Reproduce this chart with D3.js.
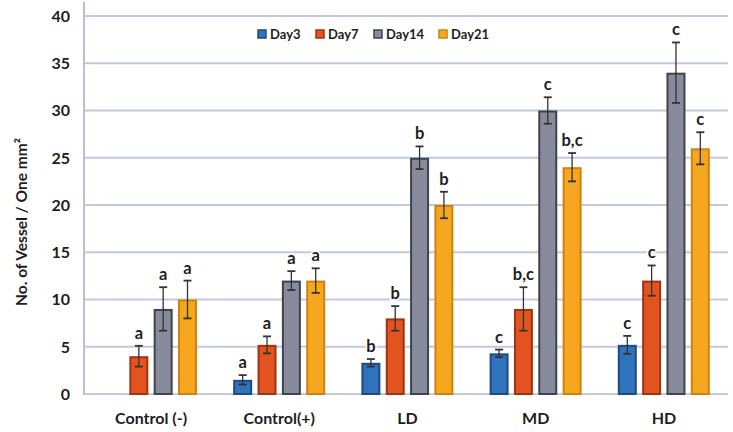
<!DOCTYPE html>
<html><head><meta charset="utf-8">
<script src="https://cdn.jsdelivr.net/npm/d3@7"></script>
<style>body{margin:0;background:#fff;} svg{display:block;} text{font-family:Lato,"Open Sans",sans-serif;font-weight:bold;}</style>
</head><body><svg id="c" width="733" height="432"></svg>
<script>
const categories = ["Control (-)", "Control(+)", "LD", "MD", "HD"];
const seriesNames = ["Day3", "Day7", "Day14", "Day21"];
const day3  = [null, 1.5, 3.3, 4.3, 5.2];
const day7  = [4, 5.2, 8, 9, 12];
const day14 = [9, 12, 25, 30, 34];
const day21 = [10, 12, 20, 24, 26];
const err3  = [null, 0.5, 0.4, 0.4, 0.95];
const err7  = [1.1, 0.9, 1.3, 2.3, 1.6];
const err14 = [2.3, 1.0, 1.2, 1.4, 3.2];
const err21 = [2.0, 1.3, 1.4, 1.5, 1.7];
const lab3  = ["", "a", "b", "c", "c"];
const lab7  = ["a", "a", "b", "b,c", "c"];
const lab14 = ["a", "a", "b", "c", "c"];
const lab21 = ["a", "a", "b", "b,c", "c"];
const yTicks = [0, 5, 10, 15, 20, 25, 30, 35, 40];
const fills = ["#2f73bd", "#e2531f", "#878b9c", "#f5a81f"];
const edges = ["#1d4a80", "#9e3512", "#3f4250", "#d0820c"];

const values = [day3, day7, day14, day21];
const errs = [err3, err7, err14, err21];
const labs = [lab3, lab7, lab14, lab21];

const svg = d3.select("#c");
const y = d3.scaleLinear().domain([0, 40]).range([394, 16]);
const x0 = d3.scaleBand().domain(categories).range([87, 728]).paddingInner(0).paddingOuter(0);
const x1 = d3.scaleBand().domain(seriesNames).range([18, 110]).paddingInner(0.22).paddingOuter(0);

svg.append("g").selectAll("line").data(yTicks).join("line")
  .attr("x1", 84).attr("x2", 728)
  .attr("y1", d => y(d)).attr("y2", d => y(d))
  .attr("stroke", "#c3c8e2").attr("stroke-width", 2);
svg.append("line").attr("x1", 84).attr("x2", 84).attr("y1", 2).attr("y2", 395)
  .attr("stroke", "#b8bedd").attr("stroke-width", 2);

svg.append("g").selectAll("text").data(yTicks).join("text")
  .attr("x", 70).attr("y", d => y(d)).attr("dy", "0.36em")
  .attr("text-anchor", "end").attr("font-size", 16).attr("fill", "#1e1e1e")
  .text(d => d);

svg.append("g").selectAll("text").data(categories).join("text")
  .attr("x", d => x0(d) + x0.bandwidth() / 2).attr("y", 424)
  .attr("text-anchor", "middle").attr("font-size", 16).attr("fill", "#1e1e1e")
  .text(d => d);

svg.append("text").attr("transform", "translate(27,222) rotate(-90)")
  .attr("text-anchor", "middle").attr("font-size", 15.5).attr("fill", "#1e1e1e")
  .text("No. of Vessel / One mm²");

seriesNames.forEach((s, si) => {
  const g = svg.append("g");
  const data = categories.map((c, i) => ({c, v: values[si][i], e: errs[si][i], l: labs[si][i]})).filter(d => d.v != null);
  const bx = d => x0(d.c) + x1(s);
  const bw = x1.bandwidth();
  g.selectAll("rect").data(data).join("rect")
    .attr("x", d => bx(d) + 1).attr("y", d => y(d.v) + 1)
    .attr("width", bw - 2).attr("height", d => y(0) - y(d.v) - 1)
    .attr("fill", fills[si]).attr("stroke", edges[si]).attr("stroke-width", 2);
  const cx = d => bx(d) + bw / 2;
  g.selectAll("line.v").data(data).join("line").attr("class", "v")
    .attr("x1", cx).attr("x2", cx).attr("y1", d => y(d.v + d.e)).attr("y2", d => y(d.v - d.e))
    .attr("stroke", "#333").attr("stroke-width", 1.3);
  g.selectAll("line.t").data(data).join("line").attr("class", "t")
    .attr("x1", d => cx(d) - 4).attr("x2", d => cx(d) + 4).attr("y1", d => y(d.v + d.e)).attr("y2", d => y(d.v + d.e))
    .attr("stroke", "#333").attr("stroke-width", 1.8);
  g.selectAll("line.b").data(data).join("line").attr("class", "b")
    .attr("x1", d => cx(d) - 4).attr("x2", d => cx(d) + 4).attr("y1", d => y(d.v - d.e)).attr("y2", d => y(d.v - d.e))
    .attr("stroke", "#333").attr("stroke-width", 1.8);
  g.selectAll("text").data(data).join("text")
    .attr("x", cx).attr("y", d => y(d.v + d.e) - 7)
    .attr("text-anchor", "middle").attr("font-size", 16.5).attr("fill", "#1e1e1e")
    .attr("stroke", "#fff").attr("stroke-width", 3).attr("paint-order", "stroke")
    .text(d => d.l);
});

const legX = [258, 316, 374, 439];
const lg = svg.append("g");
seriesNames.forEach((s, i) => {
  lg.append("rect").attr("x", legX[i]).attr("y", 30).attr("width", 8).attr("height", 8)
    .attr("fill", fills[i]).attr("stroke", edges[i]).attr("stroke-width", 1.5);
  lg.append("text").attr("x", legX[i] + 12).attr("y", 34).attr("dy", "0.35em")
    .attr("font-size", 13).attr("fill", "#1e1e1e").text(s);
});
</script></body></html>
